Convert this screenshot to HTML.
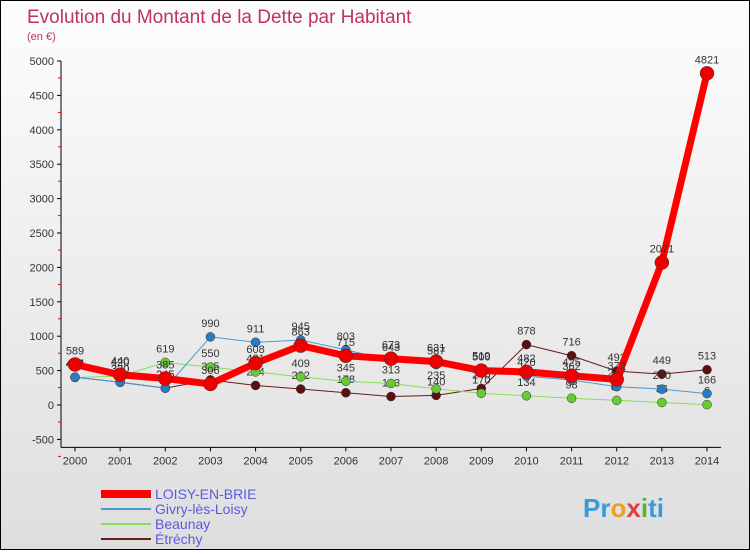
<!DOCTYPE html>
<html><head><meta charset="utf-8"><style>
body{margin:0;width:750px;height:550px;overflow:hidden;font-family:"Liberation Sans",sans-serif}
#wrap{position:relative;width:748px;height:548px;border:1px solid #000;background:linear-gradient(#fdfdfd,#dedede)}
</style></head><body>
<div id="wrap">
<svg id="chart" width="748" height="548">
<text x="26" y="22" font-size="19" fill="#c0306a">Evolution du Montant de la Dette par Habitant</text>
<text x="26" y="39" font-size="11" fill="#c0306a">(en €)</text>
<g id="axes"></g><g id="series"></g><g id="legend"></g>
<text x="582" y="516" font-size="26" font-weight="bold" fill="#3a9ad9">Pr<tspan fill="#f0a020">o</tspan><tspan fill="#e04040">x</tspan><tspan fill="#60b040">i</tspan>ti</text>
</svg></div>
<script>
const years=[2000,2001,2002,2003,2004,2005,2006,2007,2008,2009,2010,2011,2012,2013,2014];
const yTicks=[-500,0,500,1000,1500,2000,2500,3000,3500,4000,4500,5000];
const loisy=[589,440,385,306,608,863,715,673,631,500,482,425,372,2071,4821];
const givry=[404,330,245,990,911,945,803,643,587,519,420,362,267,230,166];
const beaunay=[400,420,619,550,481,409,345,313,235,170,134,98,67,36,6];
const etrechy=[405,330,245,365,284,232,178,123,140,240,878,716,492,449,513];
const names=["LOISY-EN-BRIE","Givry-lès-Loisy","Beaunay","Étréchy"];
const NS="http://www.w3.org/2000/svg";
const X=i=>74+i*(632/14), Y=v=>404-v*0.0688;
function mk(t,a,p){const e=document.createElementNS(NS,t);for(const k in a)e.setAttribute(k,a[k]);p.appendChild(e);return e;}
const ax=document.getElementById('axes');
const yl=mk('line',{x1:60,y1:Y(5000),x2:60,y2:Y(-500)+8,stroke:'#000'},ax);


const xl=mk('line',{x1:60,y1:Y(-500)+8,x2:720,y2:Y(-500)+8,stroke:'#000'},ax);


yTicks.forEach(v=>{
  mk('line',{x1:56,y1:Y(v),x2:60,y2:Y(v),stroke:'#000'},ax);
  mk('line',{x1:57,y1:Y(v)+17,x2:60,y2:Y(v)+17,stroke:'#e00'},ax);
  const t=mk('text',{x:53,y:Y(v)+4,'text-anchor':'end','font-size':11,fill:'#333'},ax);t.textContent=v;
  
  
});
years.forEach((y,i)=>{
  mk('line',{x1:X(i),y1:Y(-500)+8,x2:X(i),y2:Y(-500)+12,stroke:'#000'},ax);
  const t=mk('text',{x:X(i),y:Y(-500)+25,'text-anchor':'middle','font-size':11,fill:'#333'},ax);t.textContent=y;
  
  
});
const sg=document.getElementById('series');
const cfg=[[etrechy,'#6b1a1a','#5a1010',1,4.5],[beaunay,'#88dd55','#66cc33',1,4.5],[givry,'#4a9ad4','#2a7ac4',1,4.5],[loisy,'#ff0000','#ee0000',7,7]];
const keys=['etrechy','beaunay','givry','loisy'];
cfg.forEach((c,si)=>{
  const [d,col,dot,w,r]=c;
  const g=mk('g',{},sg);
  
  
  const pl=mk('polyline',{points:d.map((v,i)=>X(i)+','+Y(v)).join(' '),fill:'none',stroke:col,'stroke-width':w},g);
  
  
  d.forEach((v,i)=>{
    const p=mk('circle',{cx:X(i),cy:Y(v),r:r,fill:dot,stroke:'#333','stroke-width':0.5},g);
    
    
    const t=mk('text',{x:X(i),y:Y(v)-10,'text-anchor':'middle','font-size':11,fill:'#333'},g);t.textContent=v;
    
    
  });
});
const lg=document.getElementById('legend');
const lc=['#ff0000','#4a9ad4','#88dd55','#6b1a1a'],lw=[8,2,2,2];
names.forEach((n,i)=>{
  const y=493+i*15;
  const g=mk('g',{},lg);
  
  
  mk('line',{x1:100,y1:y,x2:150,y2:y,stroke:lc[i],'stroke-width':lw[i]},g);
  const t=mk('text',{x:154,y:y+5,'font-size':14,fill:'#5a5ae0'},g);t.textContent=n;
});
</script>
</body></html>
